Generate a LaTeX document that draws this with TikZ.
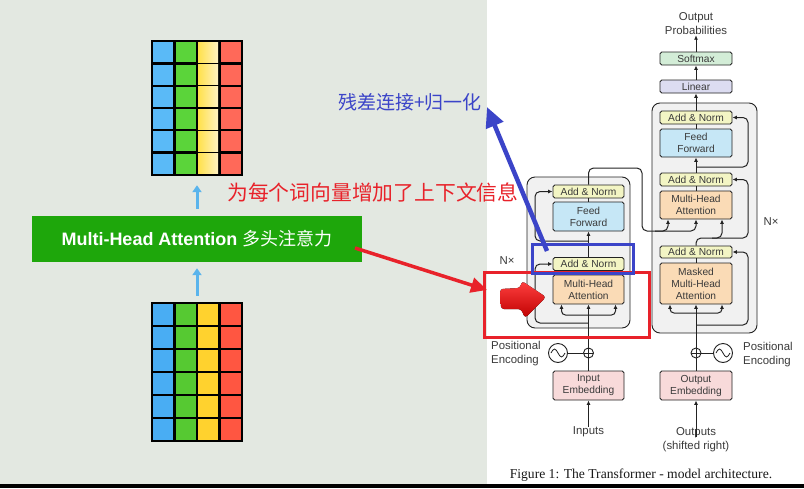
\documentclass[tikz,border=0pt]{standalone}
\usepackage{fontspec}
\setmainfont{Liberation Sans}
\newfontfamily\cjk{Noto Sans CJK SC}
\newfontfamily\capfont{Liberation Serif}
\usetikzlibrary{arrows.meta,calc}
\definecolor{bg}{HTML}{E3E8E1}
\definecolor{dk}{HTML}{222222}
\definecolor{txt}{HTML}{3A3A3A}
\definecolor{anfill}{HTML}{F3F5C4}
\definecolor{fffill}{HTML}{C6E7F6}
\definecolor{mhafill}{HTML}{FADBB6}
\definecolor{embfill}{HTML}{F8DADA}
\definecolor{smfill}{HTML}{D3EDD7}
\definecolor{linfill}{HTML}{DCDCF1}
\definecolor{outfill}{HTML}{F1F1F1}
\definecolor{gbar}{HTML}{1EA70B}
\definecolor{lblue}{HTML}{5AB4EC}
\definecolor{redc}{HTML}{E8222A}
\definecolor{bluec}{HTML}{3B44C8}
\definecolor{tb}{HTML}{5ABAF7}
\definecolor{tg}{HTML}{5BD43A}
\definecolor{tyl}{HTML}{FFE14C}
\definecolor{tyr}{HTML}{FFF2C2}
\definecolor{tr}{HTML}{FF6959}
\definecolor{bb}{HTML}{49ADF3}
\definecolor{bgr}{HTML}{56C932}
\definecolor{by}{HTML}{FFD22E}
\definecolor{br}{HTML}{FF5641}
\begin{document}
\begin{tikzpicture}[x=1pt,y=-1pt,
  blk/.style={draw=dk,line width=0.9pt,rounded corners=1.8pt,minimum width=71pt,inner sep=0pt,align=center,text=txt,font=\fontsize{10.2}{12}\selectfont},
  an/.style={blk,fill=anfill,minimum height=13pt},
  ff/.style={blk,fill=fffill,minimum height=29pt},
  mha/.style={blk,fill=mhafill,minimum height=29pt},
  emb/.style={blk,fill=embfill,minimum height=29pt},
  outer/.style={draw=dk,line width=0.9pt,rounded corners=8pt,fill=outfill,inner sep=0pt},
  cn/.style={draw=dk,line width=1pt},
  arr/.style={cn,-{Latex[length=4.5pt,width=4pt]}},
  lbl/.style={font=\fontsize{11.4}{14}\selectfont,text=txt,inner sep=0pt},
  pls/.style={circle,draw=dk,line width=0.9pt,minimum size=10pt,inner sep=0pt,fill=white,
    path picture={\draw[dk,line width=0.8pt] (path picture bounding box.north) -- (path picture bounding box.south) (path picture bounding box.west) -- (path picture bounding box.east);}},
  sine/.style={circle,draw=dk,line width=0.9pt,minimum size=19pt,inner sep=0pt,fill=white,
    path picture={\draw[dk,line width=0.8pt] ([xshift=-7pt]path picture bounding box.center) sin ++(3.5,-4) cos ++(3.5,4) sin ++(3.5,4) cos ++(3.5,-4);}},
  lba/.style={draw=lblue,line width=3pt,-{Triangle[length=7pt,width=9pt]}},
  gridbox/.style={fill=black,minimum width=92pt,minimum height=136pt,inner sep=0pt}
]
\useasboundingbox (0,0) rectangle (804,488);
\fill[white] (0,0) rectangle (804,488);
\fill[bg] (0,0) rectangle (487,484);
\fill[black] (0,484) rectangle (804,488);

% ---------------- left grids ----------------
\node[gridbox] (gridT) at (197,108) {};
\foreach \c/\col in {0/tb,1/tg,3/tr}
  \foreach \r in {0,...,5}
    \fill[\col] ({153.4+\c*22.4},{42.4+\r*22.27}) rectangle ++(20,19.87);
\foreach \r in {0,...,5}
  \shade[left color=tyl, right color=tyr] ({153.4+2*22.4},{42.4+\r*22.27}) rectangle ++(20,19.87);

\node[gridbox,minimum height=140pt] (gridB) at (197,372) {};
\foreach \c/\col in {0/bb,1/bgr,2/by,3/br}
  \foreach \r in {0,...,5}
    \fill[\col] ({153.4+\c*22.4},{304.4+\r*22.93}) rectangle ++(20,20.53);

\node[fill=gbar,minimum width=330pt,minimum height=46pt,inner sep=0pt,text=white] (bar) at (197,239)
  {\fontsize{18}{20}\selectfont\bfseries Multi-Head Attention {\cjk\mdseries 多头注意力}};

\draw[lba,shorten <=7pt,shorten >=9pt] (bar.north) -- (gridT.south);
\draw[lba,shorten <=6pt,shorten >=6pt] (gridB.north) -- (bar.south);

% ---------------- encoder ----------------
\node[outer,minimum width=103pt,minimum height=151pt] (encBox) at (578.5,252.5) {};
\node[an] (encAN2) at (588.5,191.5) {Add \& Norm};
\node[ff] (encFF) at (588.5,216.5) {Feed\\Forward};
\node[an] (encAN1) at (588.5,264) {Add \& Norm};
\node[mha] (encMHA) at (588.5,289.5) {Multi-Head\\Attention};
\node[emb] (encEmb) at (588.5,385.5) {Input\\Embedding};
\node[pls] (encPlus) at (588.5,353) {};
\node[sine] (encPE) at (558,353) {};
\node[lbl,align=left,anchor=west] (encPEl) at (491,353.5) {Positional\\Encoding};
\node[lbl] (inputs) at (588.5,432) {Inputs};
\node[lbl] (encN) at (507,261) {N×};

\coordinate (encFork) at (588.5,315);
\coordinate (encR1) at (588.5,323);
\coordinate (encR2) at (588.5,241);
\draw[arr] (inputs.north) -- (encEmb.south);
\draw[cn] (encEmb.north) -- (encPlus.south);
\draw[cn] (encPE.east) -- (encPlus.west);
\draw[arr] (encPlus.north) -- (encMHA.south);
\draw[arr,rounded corners=4pt] (encFork) -| ([xshift=-27pt]encMHA.south);
\draw[arr,rounded corners=4pt] (encFork) -| ([xshift=27pt]encMHA.south);
\draw[arr,rounded corners=5pt] (encR1) -| (535,264) -- (encAN1.west);
\draw[cn] (encMHA.north) -- (encAN1.south);
\draw[arr] (encAN1.north) -- (encFF.south);
\draw[arr,rounded corners=5pt] (encR2) -| (535,191.5) -- (encAN2.west);
\draw[cn] (encFF.north) -- (encAN2.south);

% ---------------- decoder ----------------
\node[outer,minimum width=105pt,minimum height=230pt] (decBox) at (704.5,218) {};
\node[blk,fill=smfill,minimum height=13pt,minimum width=72pt] (softmax) at (696,58.5) {Softmax};
\node[blk,fill=linfill,minimum height=13pt,minimum width=72pt] (linear) at (696,86.5) {Linear};
\node[an,minimum width=72pt] (decAN3) at (696,117.5) {Add \& Norm};
\node[ff,minimum width=72pt,minimum height=28pt] (decFF) at (696,143) {Feed\\Forward};
\node[an,minimum width=72pt] (decAN2) at (696,179.5) {Add \& Norm};
\node[mha,minimum width=72pt,minimum height=28pt] (decMHA) at (696,205) {Multi-Head\\Attention};
\node[an,minimum width=72pt,minimum height=12pt] (decAN1) at (696,252) {Add \& Norm};
\node[mha,minimum width=72pt,minimum height=41pt] (decMMHA) at (696,283.5) {Masked\\Multi-Head\\Attention};
\node[emb,minimum width=72pt] (decEmb) at (696,385.5) {Output\\Embedding};
\node[pls] (decPlus) at (696,353) {};
\node[sine] (decPE) at (723,353) {};
\node[lbl,align=left,anchor=west] (decPEl) at (743,355) {Positional\\Encoding};
\node[lbl,align=center] (outputs) at (696,440) {Outputs\\(shifted right)};
\node[lbl,align=center] (outprob) at (696,24) {Output\\Probabilities};
\node[lbl] (decN) at (771,222) {N×};

\coordinate (decFork) at (696,313);
\coordinate (decR1) at (696,325);
\coordinate (decQ) at (712,238);
\coordinate (decR3) at (696,167);
\coordinate (encTop) at (642,168);
\coordinate (encKV) at (655,231);
\draw[arr] ([yshift=-9pt]outputs.north) -- (decEmb.south);
\draw[cn] (decEmb.north) -- (decPlus.south);
\draw[cn] (decPE.west) -- (decPlus.east);
\draw[arr] (decPlus.north) -- (decMMHA.south);
\draw[arr,rounded corners=4pt] (decFork) -| ([xshift=-26pt]decMMHA.south);
\draw[arr,rounded corners=4pt] (decFork) -| ([xshift=26pt]decMMHA.south);
\draw[arr,rounded corners=5pt] (decR1) -| (748,252) -- (decAN1.east);
\draw[cn] (decMMHA.north) -- (decAN1.south);
\draw[arr,rounded corners=5pt] (decAN1.north) |- (decQ) -| ([xshift=26pt]decMHA.south);
\draw[arr,rounded corners=5pt] (decQ) -| (748,179.5) -- (decAN2.east);
\draw[cn] (decMHA.north) -- (decAN2.south);
\draw[arr] (decAN2.north) -- (decFF.south);
\draw[arr,rounded corners=5pt] (decR3) -| (748,117.5) -- (decAN3.east);
\draw[cn] (decFF.north) -- (decAN3.south);
\draw[arr] (decAN3.north) -- (linear.south);
\draw[arr] (linear.north) -- (softmax.south);
\draw[arr] (softmax.north) -- (outprob.south);
% encoder output to decoder
\draw[cn,rounded corners=5pt] (encAN2.north) |- (encTop) |- (encKV);
\draw[arr,rounded corners=5pt] (encKV) -| ([xshift=-28pt]decMHA.south);
\draw[arr,rounded corners=5pt] (encKV) -| (decMHA.south);

\node[font=\capfont\fontsize{13.6}{15}\selectfont,text=black!90,inner sep=0pt] (cap) at (641,475) {Figure 1: The Transformer - model architecture.};

% ---------------- annotations ----------------
\node[draw=redc,line width=3pt,minimum width=165pt,minimum height=65pt,inner sep=0pt] (redbox) at (566.5,304.5) {};
\node[draw=bluec,line width=3pt,minimum width=101pt,minimum height=29pt,inner sep=0pt] (bluebox) at (582.5,258.5) {};

\fill[top color=red!75!white, bottom color=red!75!black, rounded corners=3pt]
  (500,289) -- (520,288) -- (522,281) -- (546,297) -- (525,318) -- (521,309) -- (501,309) -- cycle;

\node[anchor=west,inner sep=0pt,text=redc,font=\cjk\fontsize{20.8}{22}\selectfont] (redtxt) at (227,193) {为每个词向量增加了上下文信息};
\node[anchor=west,inner sep=0pt,text=bluec,font=\cjk\fontsize{19}{21}\selectfont] (bluetxt) at (338,102) {残差连接+归一化};

\coordinate (redS) at (355,248);
\coordinate (redE) at (487,290);
\draw[draw=redc,line width=3.5pt,-{Triangle[length=16pt,width=15pt]}] (redS) -- (redE);
\coordinate (blueS) at (547,251);
\coordinate (blueE) at (487,107);
\draw[draw=bluec,line width=4.5pt,-{Triangle[length=20pt,width=18pt]}] (blueS) -- (blueE);
\end{tikzpicture}
\end{document}
